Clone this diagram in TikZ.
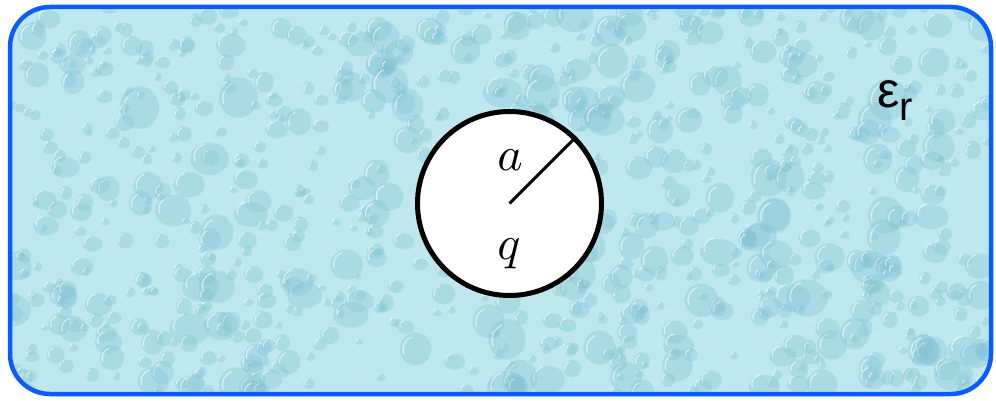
\documentclass[tikz,border=0pt]{standalone}
\usepackage{fontspec}
\newfontfamily\epsfont{Liberation Sans}
\usetikzlibrary{positioning}

\definecolor{frameblue}{RGB}{10,92,255}
\definecolor{water}{RGB}{190,231,239}
\definecolor{dropdark}{RGB}{120,188,206}

\tikzset{
  drop/.style={fill=dropdark, opacity=0.28},
  shine/.style={draw=white, line width=1.2pt, opacity=0.6},
  mathlabel/.style={scale=4.8, inner sep=0pt}
}

\begin{document}
\begin{tikzpicture}[x=1pt, y=1pt]
  \useasboundingbox (0,0) rectangle (996,400);

  % Medium
  \fill[water, rounded corners=40pt] (10,6) rectangle (991,393);
  \pgfmathsetseed{17}
  \begin{scope}
    \clip[rounded corners=40pt] (10,6) rectangle (991,393);
    \foreach \i in {1,...,900}{
      \pgfmathsetmacro{\px}{10+981*rnd}
      \pgfmathsetmacro{\py}{6+387*rnd}
      \pgfmathsetmacro{\rx}{4+18*rnd*rnd}
      \pgfmathsetmacro{\ry}{(0.7+0.4*rnd)*\rx}
      \fill[drop] (\px,\py) ellipse ({\rx pt} and {\ry pt});
      \draw[shine] (\px,\py) ++(110:{0.8*\rx pt}) arc[start angle=110,
        end angle=200, x radius=0.8*\rx pt, y radius=0.8*\ry pt];
    }
  \end{scope}
  \draw[frameblue, line width=4.5pt, rounded corners=40pt] (10,6) rectangle (991,393);

  % Sphere
  \node[circle, draw, fill=white, line width=5pt, minimum size=184pt,
    inner sep=0pt] (sphere) at (509.5,196.5) {};
  \draw[line width=3pt] (sphere.center) -- (sphere.45);

  % Labels
  \node[mathlabel, anchor=base] (radius) at (510,230) {$a$};
  \node[mathlabel, anchor=base] (charge) at (509,141) {$q$};
  \node[inner sep=0pt, anchor=base west] (perm) at (877,293)
    {\epsfont\fontsize{50}{52}\selectfont\char"03B5\raisebox{-14pt}{\fontsize{40}{42}\selectfont r}};

\end{tikzpicture}
\end{document}
